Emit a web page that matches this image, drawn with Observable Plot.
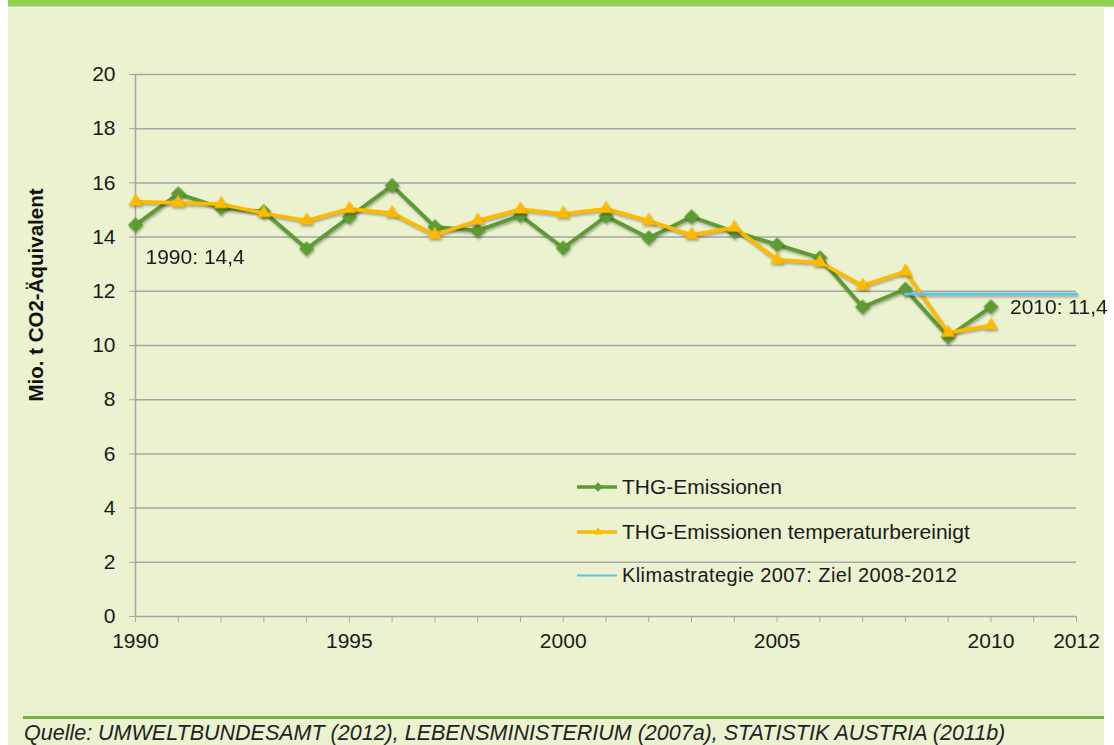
<!DOCTYPE html>
<html>
<head>
<meta charset="utf-8">
<script src="https://cdn.jsdelivr.net/npm/d3@7"></script>
<script src="https://cdn.jsdelivr.net/npm/@observablehq/plot@0.6"></script>
<style>
  html, body { margin: 0; padding: 0; background: #ffffff; }
  #page { position: relative; width: 1114px; height: 745px; overflow: hidden; font-family: "Liberation Sans", Arial, sans-serif; }
  #topbar { position: absolute; left: 8px; top: 0; width: 1106px; height: 6px; background: #92D050; border-bottom: 1px solid #b7df8c; }
  #bg { position: absolute; left: 8px; top: 8px; width: 1096px; height: 737px; background: #EAF2CF; }
  #chart { position: absolute; left: 0; top: 0; }
  #ylabel { position: absolute; left: 36px; top: 295px; transform: translate(-50%, -50%) rotate(-90deg); white-space: nowrap; font-weight: bold; font-size: 20.5px; color: #111; }
  #legend { position: absolute; left: 577px; top: 0; font-size: 21px; color: #1a1a1a; }
  .lrow { position: absolute; left: 0; display: flex; align-items: center; white-space: nowrap; transform: translateY(-50%); }
  .lrow svg { margin-right: 5px; }
  #rule { position: absolute; left: 23px; top: 716px; width: 1081px; height: 3px; background: #77B043; }
  #caption { position: absolute; left: 24px; top: 733px; transform: translateY(-50%); font-style: italic; font-size: 21.5px; color: #222; white-space: nowrap; }
  svg g[aria-label="line"], svg g[aria-label="dot"] { filter: drop-shadow(1px 2px 1.2px rgba(0,0,0,0.28)); }
</style>
</head>
<body>
<div id="page">
  <div id="topbar"></div>
  <div id="bg"></div>
  <div id="chart"></div>
  <div id="ylabel">Mio. t CO2-Äquivalent</div>
  <div id="legend"></div>
  <div id="rule"></div>
  <div id="caption">Quelle: UMWELTBUNDESAMT (2012), LEBENSMINISTERIUM (2007a), STATISTIK AUSTRIA (2011b)</div>
</div>
<script>
// ---- data ----
const years = [1990, 1991, 1992, 1993, 1994, 1995, 1996, 1997, 1998, 1999, 2000,
               2001, 2002, 2003, 2004, 2005, 2006, 2007, 2008, 2009, 2010];
const thgEmissionen = [14.45, 15.6, 15.08, 14.94, 13.57, 14.74, 15.9, 14.38, 14.24, 14.8, 13.6,
                       14.77, 13.97, 14.75, 14.2, 13.72, 13.24, 11.42, 12.08, 10.32, 11.43];
const thgTemperaturbereinigt = [15.31, 15.26, 15.22, 14.88, 14.61, 15.04, 14.88, 14.08, 14.61, 15.02, 14.86,
                                15.04, 14.6, 14.08, 14.35, 13.16, 13.07, 12.21, 12.73, 10.47, 10.74];
const zielYears = [2008, 2012];
const zielValue = 11.9;
const annotationYears = [1990, 2010];
const annotationLabels = ["1990: 14,4", "2010: 11,4"];
const xLabels = [1990, 1995, 2000, 2005, 2010, 2012];
const xTickYears = [1990, 1991, 1992, 1993, 1994, 1995, 1996, 1997, 1998, 1999, 2000, 2001,
                    2002, 2003, 2004, 2005, 2006, 2007, 2008, 2009, 2010, 2011, 2012];
const yTicks = [0, 2, 4, 6, 8, 10, 12, 14, 16, 18, 20];
const seriesNames = ["THG-Emissionen", "THG-Emissionen temperaturbereinigt", "Klimastrategie 2007: Ziel 2008-2012"];

// ---- styles ----
const GREEN = "#5E9B33";
const ORANGE = "#FFBA00";
const BLUE = "#5EC3E4";
const GRID = "#a5a5a5";

const rows = years.map((year, i) => ({year, thg: thgEmissionen[i], temp: thgTemperaturbereinigt[i]}));
const ziel = zielYears.map(year => ({year, value: zielValue}));
const annotations = annotationYears.map((year, i) => ({year, value: thgEmissionen[years.indexOf(year)], label: annotationLabels[i]}));

const chart = Plot.plot({
  width: 1114,
  height: 700,
  marginLeft: 135,
  marginRight: 38,
  marginTop: 74,
  marginBottom: 84,
  x: {domain: [1990, 2012]},
  y: {domain: [0, 20]},
  style: {background: "transparent", fontFamily: "'Liberation Sans', Arial, sans-serif", fontSize: "21px", color: "#1a1a1a", overflow: "visible"},
  marks: [
    Plot.ruleY(yTicks, {stroke: GRID, strokeWidth: 1.5}),
    Plot.ruleX([1990], {stroke: GRID, strokeWidth: 1.5}),
    Plot.axisY({ticks: yTicks, tickSize: 6, tickPadding: 14, stroke: GRID, label: null, tickFormat: d => String(d)}),
    Plot.axisX({ticks: xTickYears, tickSize: 6, tickPadding: 11, stroke: GRID, label: null,
                tickFormat: d => xLabels.includes(d) ? String(d) : ""}),
    Plot.line(rows, {x: "year", y: "thg", stroke: GREEN, strokeWidth: 3.8}),
    Plot.dot(rows, {x: "year", y: "thg", symbol: "diamond2", r: 6.8, fill: GREEN, stroke: null}),
    Plot.line(rows, {x: "year", y: "temp", stroke: ORANGE, strokeWidth: 3.8}),
    Plot.dot(rows, {x: "year", y: "temp", symbol: "triangle2", r: 6.8, fill: ORANGE, stroke: null}),
    Plot.line(ziel, {x: "year", y: "value", stroke: BLUE, strokeWidth: 3}),
    Plot.text(annotations.slice(0, 1), {x: "year", y: "value", text: "label", textAnchor: "start", dx: 10, dy: 32, fill: "#1a1a1a"}),
    Plot.text(annotations.slice(1), {x: "year", y: "value", text: "label", textAnchor: "start", dx: 19, dy: 1, fill: "#1a1a1a"})
  ]
});
document.getElementById("chart").appendChild(chart);

// ---- legend ----
const legend = d3.select("#legend");
const legendTops = [487, 532, 575];
const legendColors = [GREEN, ORANGE, BLUE];
const legendSymbols = [d3.symbolDiamond2, d3.symbolTriangle2, null];
seriesNames.forEach((name, i) => {
  const row = legend.append("div").attr("class", "lrow").style("top", legendTops[i] + "px");
  const s = row.append("svg").attr("width", 40).attr("height", 16);
  s.append("line").attr("x1", 0).attr("x2", 40).attr("y1", 8).attr("y2", 8)
    .attr("stroke", legendColors[i]).attr("stroke-width", i === 2 ? 2 : 3.5);
  if (legendSymbols[i]) {
    s.append("path").attr("d", d3.symbol(legendSymbols[i], 55)()).attr("transform", "translate(21,8)").attr("fill", legendColors[i]);
  }
  row.append("span").text(name).style("font-size", i === 2 ? "20px" : "21px").style("letter-spacing", i === 2 ? "0.4px" : "0");
});
</script>
</body>
</html>
